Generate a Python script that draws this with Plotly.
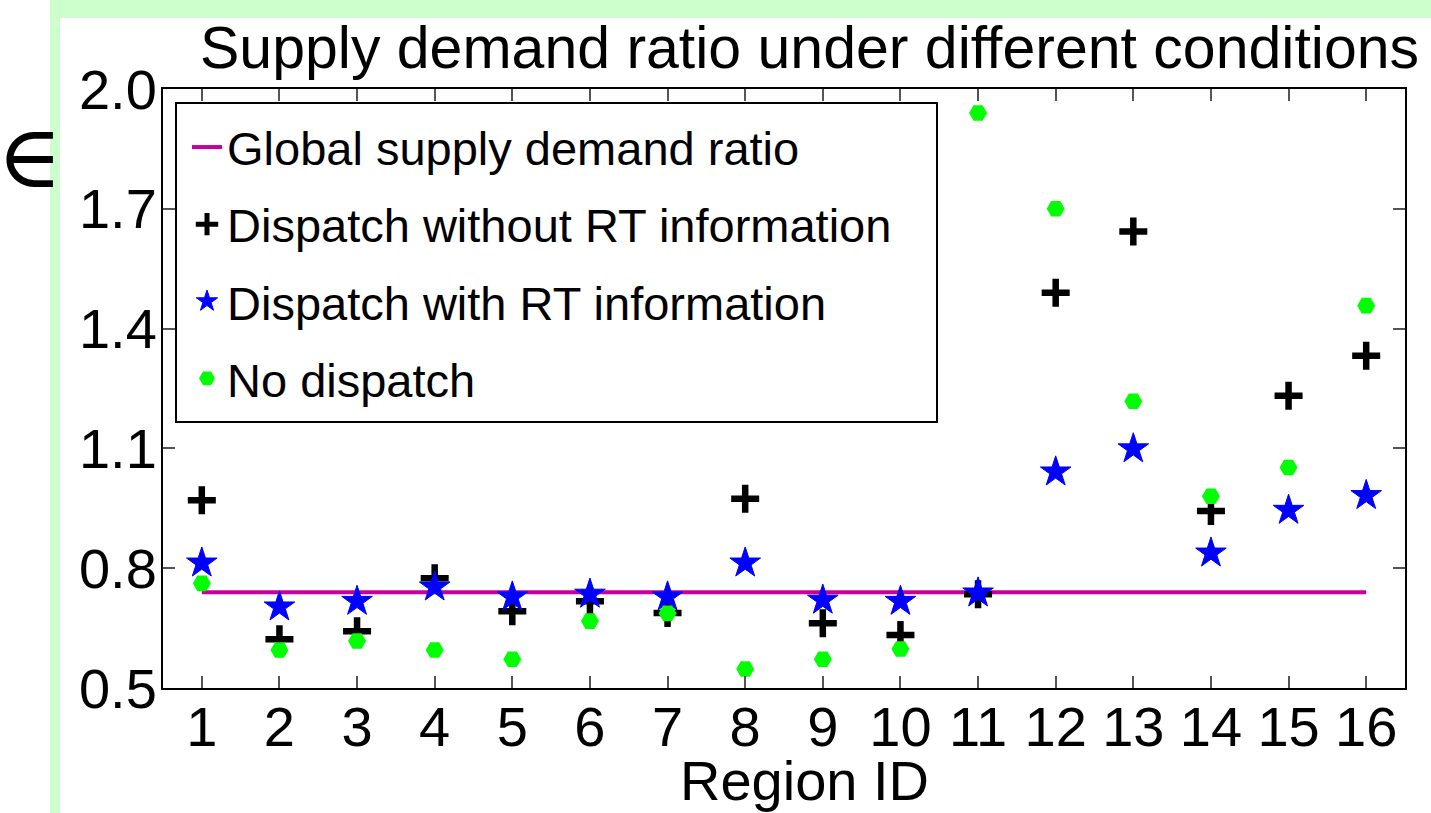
import plotly.graph_objects as go

region_ids = list(range(1, 17))
tick_labels = [str(i) for i in region_ids]
global_ratio = 0.74
no_rt = [0.97, 0.622, 0.642, 0.775, 0.692, 0.717, 0.688, 0.974, 0.662, 0.633, 0.735,
         1.49, 1.643, 0.943, 1.232, 1.332]
with_rt = [0.813, 0.703, 0.717, 0.753, 0.728, 0.735, 0.728, 0.813, 0.72, 0.717, 0.738,
           1.041, 1.099, 0.838, 0.945, 0.982]
no_dispatch = [0.762, 0.595, 0.6175, 0.595, 0.572, 0.6675, 0.687, 0.5475, 0.572, 0.5975, 1.94,
               1.70, 1.218, 0.98, 1.052, 1.4575]
y_ticks = [0.5, 0.8, 1.1, 1.4, 1.7, 2.0]

W, H = 1431, 813
L, R, T, B = 163, 1405, 89, 688

FONT = "Liberation Sans, Arial, Helvetica, sans-serif"

fig = go.Figure()
fig.add_trace(go.Scatter(
    x=[region_ids[0], region_ids[-1]], y=[global_ratio, global_ratio],
    mode="lines", line=dict(color="#c8009b", width=4),
    name="Global supply demand ratio", legendgroup="a"))
fig.add_trace(go.Scatter(
    x=region_ids, y=no_rt, mode="markers",
    marker=dict(symbol="cross-thin", size=20, color="black",
                line=dict(color="black", width=6.5)),
    name="Dispatch without RT information", legendgroup="b"))
fig.add_trace(go.Scatter(
    x=region_ids, y=with_rt, mode="markers",
    marker=dict(symbol="star", size=23, color="#0000ff",
                line=dict(color="#0000ff", width=1)),
    name="Dispatch with RT information", legendgroup="c"))
fig.add_trace(go.Scatter(
    x=region_ids, y=no_dispatch, mode="markers",
    marker=dict(symbol="hexagon2", size=18, color="#00ff00",
                line=dict(color="#00ff00", width=0)),
    name="No dispatch", legendgroup="d"))

axis_common = dict(
    showline=True, linecolor="black", linewidth=2, mirror="ticks",
    ticks="inside", ticklen=12, tickwidth=1.5, tickcolor="#555555",
    showgrid=False, zeroline=False,
    tickfont=dict(family=FONT, size=56, color="black"),
)
fig.update_xaxes(range=[0.5, 16.5], tickmode="array", tickvals=region_ids,
                 ticktext=tick_labels, ticklabelstandoff=-11, **axis_common)
fig.update_yaxes(range=[0.5, 2.0], tickmode="array", tickvals=y_ticks,
                 ticktext=[f"{v:.1f}" for v in y_ticks], ticklabelstandoff=-7,
                 **axis_common)

shapes = [
    # light green frame
    dict(type="rect", xref="paper", yref="paper",
         x0=(50 - L) / (R - L), x1=(W - L) / (R - L),
         y0=(B - 0) / (B - T), y1=(B - 18) / (B - T),
         fillcolor="#ccffcc", line=dict(width=0), layer="below"),
    dict(type="rect", xref="paper", yref="paper",
         x0=(50 - L) / (R - L), x1=(60 - L) / (R - L),
         y0=(B - 0) / (B - T), y1=(B - H) / (B - T),
         fillcolor="#ccffcc", line=dict(width=0), layer="below"),
    # legend box
    dict(type="rect", xref="paper", yref="paper",
         x0=(176 - L) / (R - L), x1=(937 - L) / (R - L),
         y0=(B - 103) / (B - T), y1=(B - 422) / (B - T),
         fillcolor="white", line=dict(color="black", width=2), layer="below"),
]

annotations = [
    dict(text="Supply demand ratio under different conditions", xref="paper", yref="paper",
         x=(809 - L) / (R - L), y=(B - 48) / (B - T), xanchor="center", yanchor="middle",
         showarrow=False, font=dict(family=FONT, size=59, color="black")),
    dict(text="Region ID", xref="paper", yref="paper",
         x=(804 - L) / (R - L), y=(B - 780) / (B - T), xanchor="center", yanchor="middle",
         showarrow=False, font=dict(family=FONT, size=56, color="black")),
    dict(text="∈", xref="paper", yref="paper",
         x=(-5 - L) / (R - L), y=(B - 156) / (B - T), xanchor="left", yanchor="middle",
         showarrow=False, font=dict(family="DejaVu Serif, serif", size=88, color="black")),
]

fig.update_layout(
    width=W, height=H,
    margin=dict(l=L, r=W - R, t=T, b=H - B, autoexpand=False),
    paper_bgcolor="white", plot_bgcolor="rgba(0,0,0,0)",
    shapes=shapes, annotations=annotations,
    showlegend=True,
    legend=dict(x=(187 - L) / (R - L), y=(B - 110) / (B - T), xanchor="left", yanchor="top",
                bgcolor="rgba(0,0,0,0)", borderwidth=0,
                font=dict(family=FONT, size=47, color="black"),
                traceorder="grouped", tracegroupgap=13, itemwidth=30),
)

fig.write_html("out.html", config={"displayModeBar": False},
               post_script="document.body.style.margin='0px';")
